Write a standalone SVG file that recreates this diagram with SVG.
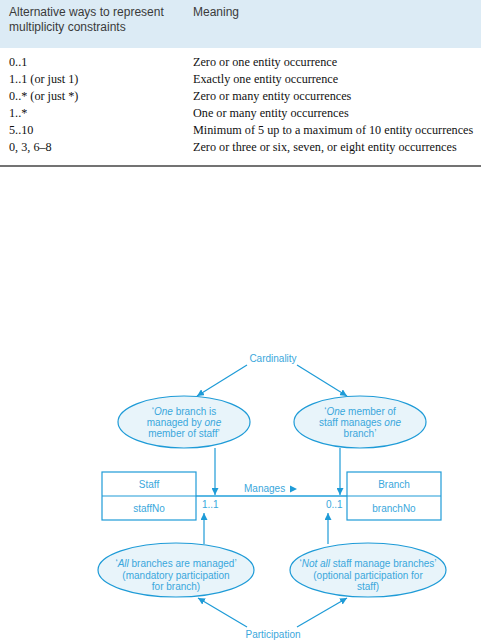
<svg xmlns="http://www.w3.org/2000/svg" width="481" height="642" viewBox="0 0 481 642">
<style>
.hd{font-family:"Liberation Sans",Arial,sans-serif;font-size:12px;fill:#3a3a3a}
.tb{font-family:"Liberation Serif","Times New Roman",serif;font-size:12.2px;fill:#111}
.lb{font-family:"Liberation Sans",Arial,sans-serif;font-size:10px;fill:#3aa7dc}
.ln{stroke:#1e9bd7;stroke-width:1.2;fill:none}
.el{fill:#e8f4fa;stroke:#1e9bd7;stroke-width:1.2}
.bx{fill:#fff;stroke:#1e9bd7;stroke-width:1.2}
</style>
<defs>
<marker id="ah" viewBox="0 0 10 10" refX="10" refY="5" markerWidth="7" markerHeight="7" orient="auto" markerUnits="userSpaceOnUse">
<path d="M0,0 L10,5 L0,10 z" fill="#1e9bd7"/>
</marker>
</defs>
<rect width="481" height="642" fill="#fff"/>
<g id="table">
<rect x="0" y="0" width="481" height="48" fill="#dcebf5"/>
<text class="hd" x="9" y="16">Alternative ways to represent</text>
<text class="hd" x="9" y="31">multiplicity constraints</text>
<text class="hd" x="193" y="16">Meaning</text>
<text class="tb" x="9" y="66">0..1</text>
<text class="tb" x="193" y="66">Zero or one entity occurrence</text>
<text class="tb" x="9" y="83">1..1 (or just 1)</text>
<text class="tb" x="193" y="83">Exactly one entity occurrence</text>
<text class="tb" x="9" y="100">0..* (or just *)</text>
<text class="tb" x="193" y="100">Zero or many entity occurrences</text>
<text class="tb" x="9" y="117">1..*</text>
<text class="tb" x="193" y="117">One or many entity occurrences</text>
<text class="tb" x="9" y="134">5..10</text>
<text class="tb" x="193" y="134">Minimum of 5 up to a maximum of 10 entity occurrences</text>
<text class="tb" x="9" y="151">0, 3, 6–8</text>
<text class="tb" x="193" y="151">Zero or three or six, seven, or eight entity occurrences</text>
<line x1="0" y1="166" x2="481" y2="166" stroke="#444" stroke-width="1.5"/>
</g>
<g id="connectors">
<line class="ln" x1="247" y1="365" x2="197" y2="396" marker-end="url(#ah)"/>
<line class="ln" x1="297" y1="365" x2="347" y2="396" marker-end="url(#ah)"/>
<line class="ln" x1="215" y1="448" x2="215" y2="495" marker-end="url(#ah)"/>
<line class="ln" x1="340" y1="448" x2="340" y2="495" marker-end="url(#ah)"/>
<line x1="196" y1="496" x2="347" y2="496" stroke="#5ab8e4" stroke-width="2"/>
<line class="ln" x1="204" y1="544" x2="204" y2="513" marker-end="url(#ah)"/>
<line class="ln" x1="328" y1="544" x2="328" y2="513" marker-end="url(#ah)"/>
<line class="ln" x1="247" y1="627" x2="198" y2="598" marker-end="url(#ah)"/>
<line class="ln" x1="297" y1="627" x2="347" y2="598" marker-end="url(#ah)"/>
<text class="lb" x="244" y="492">Manages</text>
<path d="M290,485.5 L297,489 L290,492.5 z" fill="#1e9bd7"/>
<text class="lb" x="202" y="508">1..1</text>
<text class="lb" x="326" y="508">0..1</text>
</g>
<g id="cardinality"><text class="lb" x="273" y="362" text-anchor="middle">Cardinality</text></g>
<g id="participation"><text class="lb" x="273" y="638" text-anchor="middle">Participation</text></g>
<g id="e1">
<ellipse class="el" cx="184" cy="422" rx="66" ry="26"/>
<text class="lb" x="184" y="415" text-anchor="middle">‘<tspan font-style="italic">One</tspan> branch is</text>
<text class="lb" x="184" y="426" text-anchor="middle">managed by <tspan font-style="italic">one</tspan></text>
<text class="lb" x="184" y="437" text-anchor="middle">member of staff’</text>
</g>
<g id="e2">
<ellipse class="el" cx="360" cy="422" rx="66" ry="26"/>
<text class="lb" x="360" y="415" text-anchor="middle">‘<tspan font-style="italic">One</tspan> member of</text>
<text class="lb" x="360" y="426" text-anchor="middle">staff manages <tspan font-style="italic">one</tspan></text>
<text class="lb" x="360" y="437" text-anchor="middle">branch’</text>
</g>
<g id="staff">
<rect class="bx" x="102" y="472" width="94" height="48"/>
<line class="ln" x1="102" y1="496" x2="196" y2="496"/>
<text class="lb" x="149" y="488" text-anchor="middle">Staff</text>
<text class="lb" x="149" y="512" text-anchor="middle">staffNo</text>
</g>
<g id="branch">
<rect class="bx" x="347" y="472" width="94" height="48"/>
<line class="ln" x1="347" y1="496" x2="441" y2="496"/>
<text class="lb" x="394" y="488" text-anchor="middle">Branch</text>
<text class="lb" x="394" y="512" text-anchor="middle">branchNo</text>
</g>
<g id="e3">
<ellipse class="el" cx="176" cy="570" rx="78" ry="27"/>
<text class="lb" x="176" y="567" text-anchor="middle">‘<tspan font-style="italic">All</tspan> branches are managed’</text>
<text class="lb" x="176" y="579" text-anchor="middle">(mandatory participation</text>
<text class="lb" x="176" y="590" text-anchor="middle">for branch)</text>
</g>
<g id="e4">
<ellipse class="el" cx="368" cy="570" rx="78" ry="27"/>
<text class="lb" x="368" y="567" text-anchor="middle">‘<tspan font-style="italic">Not all</tspan> staff manage branches’</text>
<text class="lb" x="368" y="579" text-anchor="middle">(optional participation for</text>
<text class="lb" x="368" y="590" text-anchor="middle">staff)</text>
</g>
</svg>
